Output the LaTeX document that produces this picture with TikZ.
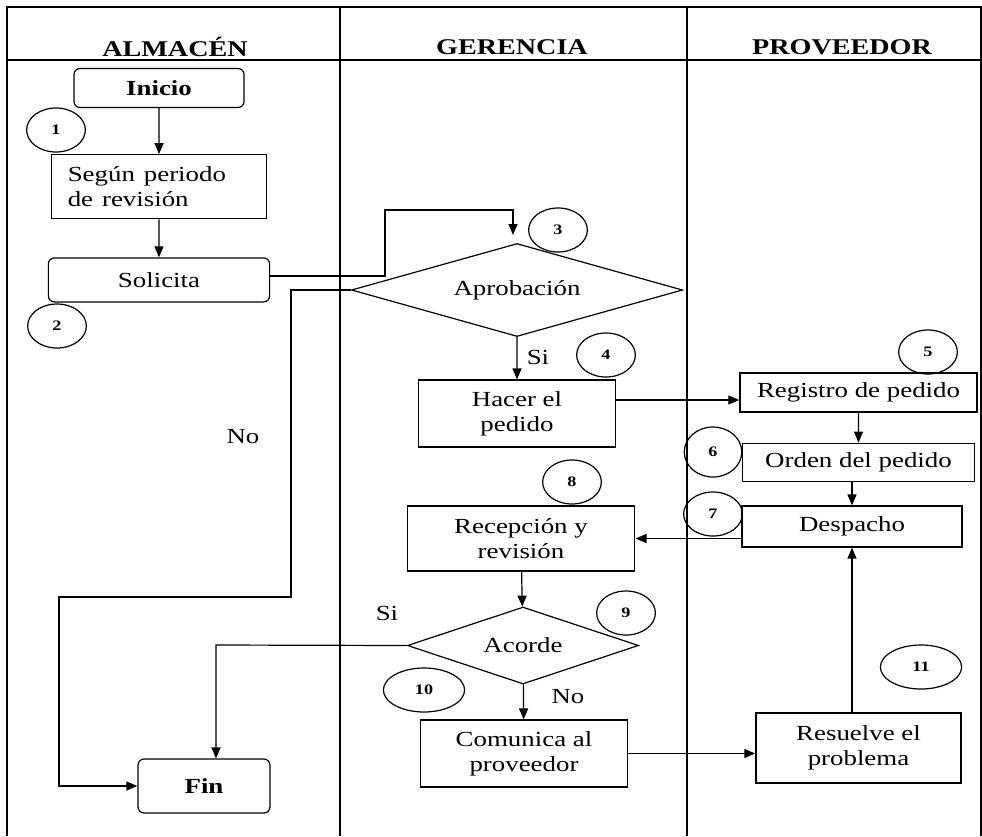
\documentclass[tikz,border=0pt]{standalone}
\usepackage{fontspec}
\setmainfont{Liberation Serif}
\usepackage{tikz}
\usetikzlibrary{arrows.meta,shapes.geometric}
\usetikzlibrary{calc}
\usetikzlibrary{positioning}

\begin{document}
\begin{tikzpicture}[x=1pt,y=-1pt,>={Triangle[length=11pt,width=9pt]},line width=1.2pt,node distance=40pt]
 \tikzstyle{every node}=[xscale=1.25, inner sep=0pt, font=\fontsize{21.5}{25}\selectfont]
 \tikzstyle{lane}=[font=\fontsize{22.5}{25}\selectfont\bfseries]
 \tikzstyle{proc}=[draw, rectangle, align=center]
 \tikzstyle{term}=[draw, rectangle, rounded corners=6pt, align=center]
 \tikzstyle{decision}=[draw, diamond, aspect=3]
 \tikzstyle{num}=[draw, ellipse, minimum width=47pt, minimum height=44pt, font=\fontsize{14.5}{16}\selectfont\bfseries]
 \useasboundingbox (0,0) rectangle (982,836);
 % marco y carriles
 \draw[line width=1.5pt] (7,836) -- (7,7) -- (981,7) -- (981,836);
 \draw[line width=1.5pt] (7,60) -- (981,60);
 \draw[line width=1.5pt] (340,7) -- (340,836);
 \draw[line width=1.5pt] (687,7) -- (687,836);
 \node[lane] (almacen)   at (175,47) {ALMACÉN};
 \node[lane] (gerencia)  at (512,47) {GERENCIA};
 \node[lane] (proveedor) at (842,47) {PROVEEDOR};
 % almacen
 \node[term, minimum width=136pt, minimum height=39pt, font=\fontsize{21.5}{25}\selectfont\bfseries] (inicio) at (159,88) {Inicio};
 \node[proc, minimum width=172pt, minimum height=64pt, text width=146pt, align=left] (segun) [below=46pt of inicio] {Según periodo\\de revisión};
 \node[term, minimum width=177pt, minimum height=44pt] (solicita) [below=38pt of segun] {Solicita};
 \node[num] (n1) at (56,130) {1};
 \node[num] (n2) at (57,326) {2};
 \node[term, minimum width=105.5pt, minimum height=54pt, font=\fontsize{21.5}{25}\selectfont\bfseries] (fin) at (204,786) {Fin};
 % gerencia
 \node[decision, minimum width=265pt, minimum height=93pt] (aprob) at (517,290) {Aprobación};
 \node[num] (n3) at (558,230) {3};
 \node[proc, minimum width=157.5pt, minimum height=67pt] (hacer) at (517,413.5) {Hacer el\\pedido};
 \node[num] (n4) at (606,355) {4};
 \node[proc, minimum width=182pt, minimum height=65pt] (recep) at (521,538.5) {Recepción y\\revisión};
 \node[num] (n8) at (572,482) {8};
 \node[decision, minimum width=185pt, minimum height=77pt] (acorde) at (523,645.5) {Acorde};
 \node[num] (n9) at (626,613) {9};
 \node[num, minimum width=65pt] (n10) at (424,690) {10};
 \node[proc, minimum width=165.5pt, minimum height=67pt] (comunica) at (524,753.5) {Comunica al\\proveedor};
 % proveedor
 \node[proc, minimum width=189.5pt, minimum height=39pt] (registro) at (858.5,392.5) {Registro de pedido};
 \node[num] (n5) at (928,352) {5};
 \node[proc, minimum width=185pt, minimum height=38pt] (orden) [below=30pt of registro] {Orden del pedido};
 \node[num, minimum width=46pt, minimum height=50pt] (n6) at (713,452) {6};
 \node[proc, minimum width=176pt, minimum height=41pt] (despacho) at (852,526.5) {Despacho};
 \node[num] (n7) at (713,514) {7};
 \node[proc, minimum width=164pt, minimum height=70pt] (resuelve) at (858.5,748) {Resuelve el\\problema};
 \node[num, minimum width=65pt] (n11) at (921,667) {11};
 % etiquetas
 \node (si1) at (538,357) {Si};
 \node (no1) at (243,437) {No};
 \node (si2) at (387,613) {Si};
 \node (no2) at (568,697) {No};
 % conectores
 \coordinate (s1) at (385,210);
 \coordinate (a3) at (513,235);
 \coordinate (rech1) at (291,597);
 \coordinate (rech2) at (59,597);
 \coordinate (fin1) at (216,645);
 \path[->]
 (inicio) edge (segun)
 (segun) edge (solicita)
 (aprob) edge (hacer)
 ([yshift=13.5pt]hacer.east) edge ([yshift=-7.5pt]registro.west)
 (registro) edge (orden)
 (despacho.north |- orden.south) edge (despacho.north)
 (despacho.west |- recep.east) edge (recep.east)
 (recep) edge (acorde)
 (acorde) edge (comunica)
 (comunica.east) edge (comunica.east -| resuelve.west)
 (resuelve.north -| despacho.south) edge (despacho.south);
 \draw[->] ([yshift=4pt]solicita.east) -| (s1) -| (a3);
 \draw[->] (aprob.west) -| (rech1) -- (rech2) |- (fin.west);
 \draw[->] (acorde.west) -- (fin1) -- (fin1 |- fin.north);
\end{tikzpicture}
\end{document}
